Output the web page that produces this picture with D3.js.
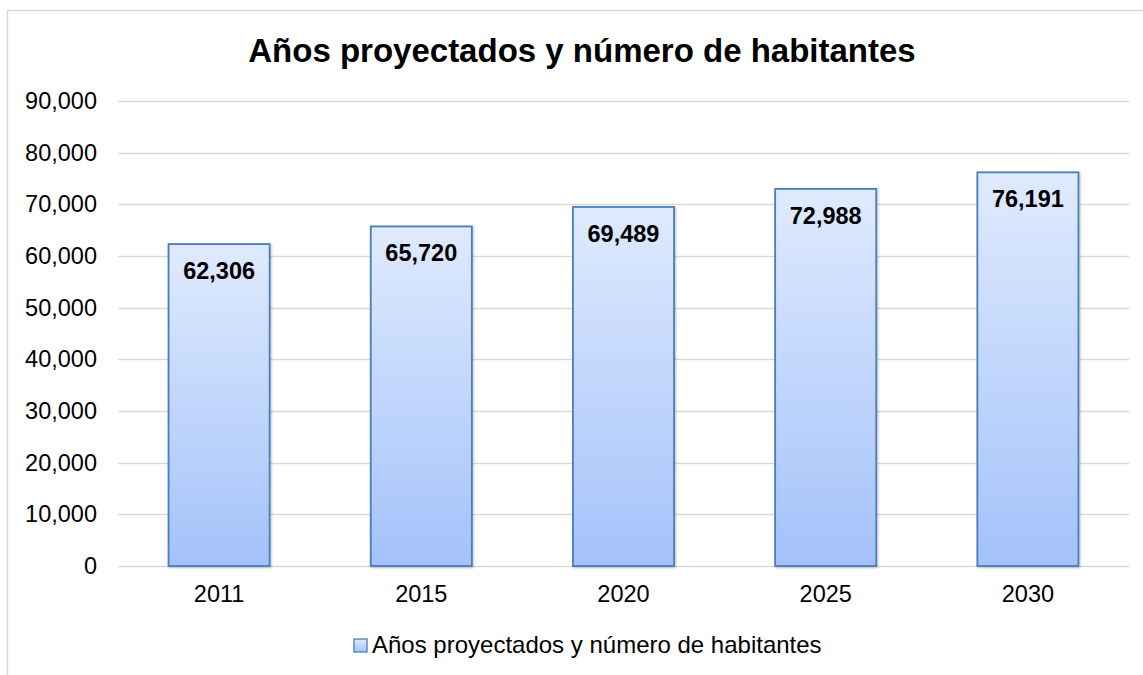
<!DOCTYPE html>
<html>
<head>
<meta charset="utf-8">
<script src="https://cdn.jsdelivr.net/npm/d3@7"></script>
<style>
  body { margin: 0; background: #fff; }
  svg { display: block; font-family: Arial, "Liberation Sans", sans-serif; }
</style>
</head>
<body>
<main></main>
<script>
const title = "Años proyectados y número de habitantes";
const seriesName = "Años proyectados y número de habitantes";
const years = ["2011", "2015", "2020", "2025", "2030"];
const habitantes = [62306, 65720, 69489, 72988, 76191];
const yTicks = [0, 10000, 20000, 30000, 40000, 50000, 60000, 70000, 80000, 90000];

const width = 1143;
const height = 675;
const margin = {top: 101, right: 14, bottom: 109, left: 118};
const fontSize = 23.5;

const svg = d3.select('main').append('svg')
  .attr('width', width)
  .attr('height', height);

// chart frame
svg.append('rect')
  .attr('x', 7.5).attr('y', 10.5)
  .attr('width', width + 10).attr('height', height + 10)
  .attr('fill', 'none')
  .attr('stroke', '#d9d9d9')
  .attr('stroke-width', 1.5);

const defs = svg.append('defs');
const grad = defs.append('linearGradient')
  .attr('id', 'barGrad')
  .attr('x1', 0).attr('y1', 0).attr('x2', 0).attr('y2', 1);
grad.append('stop').attr('offset', '0%').attr('stop-color', '#dfeafd');
grad.append('stop').attr('offset', '100%').attr('stop-color', '#a3c2fa');

const shadow = defs.append('filter').attr('id', 'shadow')
  .attr('x', '-10%').attr('y', '-10%').attr('width', '130%').attr('height', '130%');
shadow.append('feDropShadow')
  .attr('dx', 1).attr('dy', 1).attr('stdDeviation', 1.2)
  .attr('flood-color', '#000').attr('flood-opacity', 0.25);

const x = d3.scaleBand()
  .domain(years)
  .range([margin.left, width - margin.right])
  .paddingInner(0.5)
  .paddingOuter(0.25);

const y = d3.scaleLinear()
  .domain([0, 90000])
  .range([height - margin.bottom, margin.top]);

const fmt = d3.format(',');

// gridlines
svg.append('g')
  .selectAll('line')
  .data(yTicks)
  .join('line')
  .attr('x1', margin.left)
  .attr('x2', width - margin.right)
  .attr('y1', d => Math.round(y(d)) + 0.5)
  .attr('y2', d => Math.round(y(d)) + 0.5)
  .attr('stroke', '#d9d9d9')
  .attr('stroke-width', 1.5);

// y axis labels
const yAxis = svg.append('g')
  .attr('transform', `translate(${margin.left - 21},0)`)
  .call(d3.axisLeft(y).tickValues(yTicks).tickFormat(fmt).tickSize(0).tickPadding(0));
yAxis.select('.domain').remove();
yAxis.selectAll('text')
  .attr('font-size', fontSize)
  .attr('font-family', 'Arial, "Liberation Sans", sans-serif')
  .attr('fill', '#000');

// x axis labels
const xAxis = svg.append('g')
  .attr('transform', `translate(0,${height - margin.bottom})`)
  .call(d3.axisBottom(x).tickSize(0).tickPadding(19));
xAxis.select('.domain').remove();
xAxis.selectAll('text')
  .attr('font-size', fontSize)
  .attr('font-family', 'Arial, "Liberation Sans", sans-serif')
  .attr('fill', '#000');

// bars
svg.append('g')
  .selectAll('rect')
  .data(years)
  .join('rect')
  .attr('x', d => x(d))
  .attr('y', (d, i) => y(habitantes[i]))
  .attr('width', x.bandwidth())
  .attr('height', (d, i) => y(0) - y(habitantes[i]))
  .attr('fill', 'url(#barGrad)')
  .attr('stroke', '#4a7ebb')
  .attr('stroke-width', 1.8)
  .attr('filter', 'url(#shadow)');

// value labels
svg.append('g')
  .selectAll('text')
  .data(years)
  .join('text')
  .attr('x', d => x(d) + x.bandwidth() / 2)
  .attr('y', (d, i) => y(habitantes[i]) + 35)
  .attr('text-anchor', 'middle')
  .attr('font-size', fontSize)
  .attr('font-weight', 'bold')
  .attr('fill', '#000')
  .text((d, i) => fmt(habitantes[i]));

// title
svg.append('text')
  .attr('x', 582)
  .attr('y', 62)
  .attr('text-anchor', 'middle')
  .attr('font-size', 33)
  .attr('font-weight', 'bold')
  .attr('fill', '#000')
  .text(title);

// legend
const legend = svg.append('g').attr('transform', 'translate(354,639)');
legend.append('rect')
  .attr('x', 0).attr('y', 0)
  .attr('width', 13).attr('height', 13)
  .attr('fill', 'url(#barGrad)')
  .attr('stroke', '#4a7ebb')
  .attr('stroke-width', 1.3);
legend.append('text')
  .attr('x', 18)
  .attr('y', 14)
  .attr('font-size', 24)
  .attr('fill', '#000')
  .text(seriesName);
</script>
</body>
</html>
